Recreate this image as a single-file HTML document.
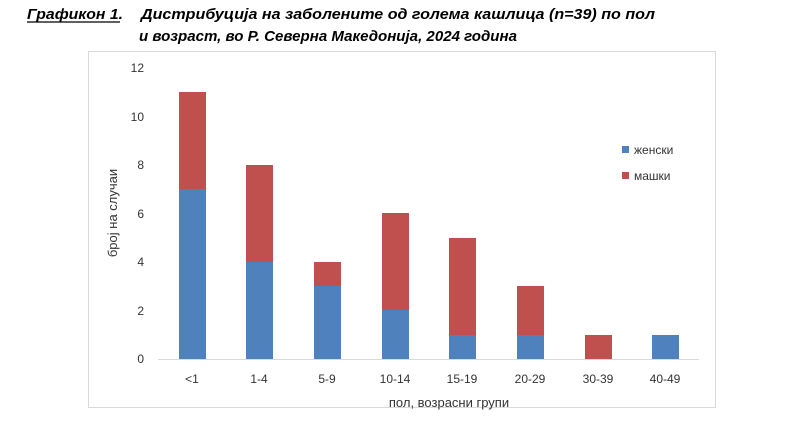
<!DOCTYPE html>
<html><head><meta charset="utf-8"><style>body{margin:0;background:#fff}svg{display:block}</style></head>
<body>
<svg width="787" height="425" xmlns="http://www.w3.org/2000/svg" font-family="Liberation Sans, sans-serif">
<g font-weight="bold" font-style="italic" font-size="15" fill="#000">
<text x="27" y="19" textLength="96" lengthAdjust="spacingAndGlyphs">Графикон 1.</text>
<line x1="27" y1="22" x2="120" y2="22" stroke="#000" stroke-width="1.2"/>
<text x="141" y="19" textLength="514" lengthAdjust="spacingAndGlyphs">Дистрибуција на заболените од голема кашлица (n=39) по пол</text>
<text x="139" y="41" textLength="378" lengthAdjust="spacingAndGlyphs">и возраст, во Р. Северна Македонија, 2024 година</text>
</g>
<rect x="88.5" y="51.5" width="627" height="356" fill="#fff" stroke="#d9d9d9"/>
<g font-size="12" fill="#333" text-anchor="end">
<text x="144" y="363">0</text><text x="144" y="315">2</text><text x="144" y="266">4</text>
<text x="144" y="218">6</text><text x="144" y="169">8</text><text x="144" y="121">10</text><text x="144" y="72">12</text>
</g>
<text transform="translate(117,213) rotate(-90)" font-size="13" fill="#333" text-anchor="middle">број на случаи</text>
<line x1="158" y1="359.5" x2="699" y2="359.5" stroke="#d9d9d9"/>
<g>
<rect x="179" y="189" width="27" height="170" fill="#4f81bd"/><rect x="179" y="92" width="27" height="97" fill="#c0504d"/>
<rect x="246" y="262" width="27" height="97" fill="#4f81bd"/><rect x="246" y="165" width="27" height="97" fill="#c0504d"/>
<rect x="314" y="286" width="27" height="73" fill="#4f81bd"/><rect x="314" y="262" width="27" height="24" fill="#c0504d"/>
<rect x="382" y="310" width="27" height="49" fill="#4f81bd"/><rect x="382" y="213" width="27" height="97" fill="#c0504d"/>
<rect x="449" y="335" width="27" height="24" fill="#4f81bd"/><rect x="449" y="238" width="27" height="97" fill="#c0504d"/>
<rect x="517" y="335" width="27" height="24" fill="#4f81bd"/><rect x="517" y="286" width="27" height="49" fill="#c0504d"/>
<rect x="585" y="335" width="27" height="24" fill="#c0504d"/>
<rect x="652" y="335" width="27" height="24" fill="#4f81bd"/>
</g>
<g font-size="12" fill="#333" text-anchor="middle">
<text x="192" y="383">&lt;1</text><text x="259" y="383">1-4</text><text x="327" y="383">5-9</text>
<text x="395" y="383">10-14</text><text x="462" y="383">15-19</text><text x="530" y="383">20-29</text>
<text x="598" y="383">30-39</text><text x="665" y="383">40-49</text>
<text x="449" y="407" font-size="13">пол, возрасни групи</text>
</g>
<rect x="622" y="146" width="7" height="7" fill="#4f81bd"/><rect x="622" y="172" width="7" height="7" fill="#c0504d"/>
<g font-size="12" fill="#333"><text x="634" y="154">женски</text><text x="634" y="180">машки</text></g>
</svg>
</body></html>
